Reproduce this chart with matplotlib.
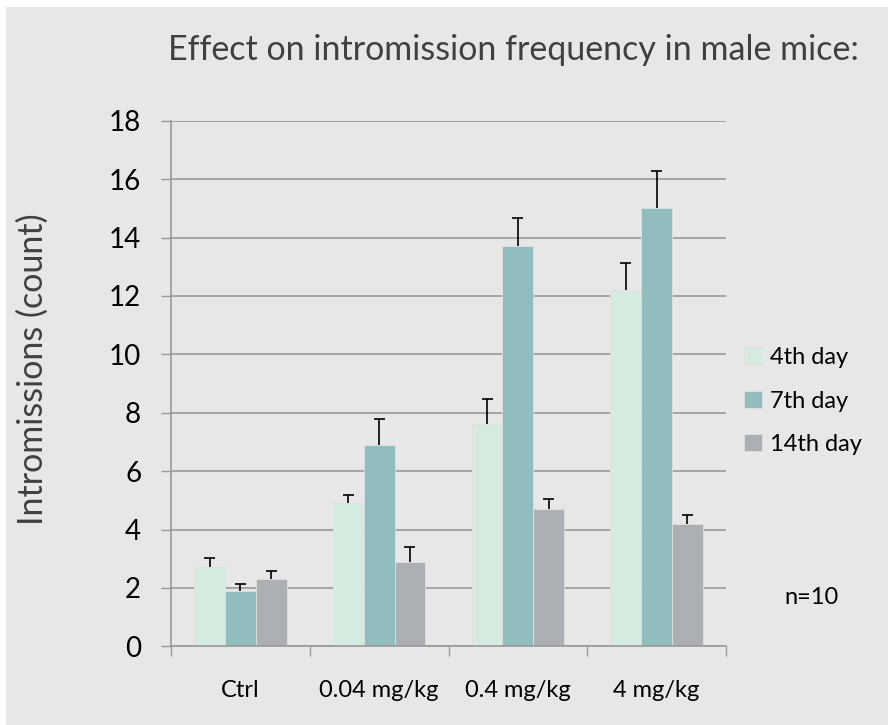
import matplotlib

matplotlib.use("Agg")
import matplotlib.pyplot as plt
import numpy as np
from matplotlib.patches import Rectangle

plt.rcParams["font.family"] = ["Lato", "DejaVu Sans"]

# data
groups = ["Ctrl", "0.04 mg/kg", "0.4 mg/kg", "4 mg/kg"]
series = ["4th day", "7th day", "14th day"]
day4 = [2.7, 4.9, 7.6, 12.2]
day7 = [1.9, 6.9, 13.7, 15.0]
day14 = [2.3, 2.9, 4.7, 4.2]
err4 = [0.33, 0.27, 0.86, 0.93]
err7 = [0.25, 0.88, 0.98, 1.28]
err14 = [0.27, 0.49, 0.33, 0.29]
yticks = list(range(0, 19, 2))

colors = ["#d5ebe0", "#92bdbe", "#acafb4"]
BG = "#e7e7e7"
GRID = "#999999"
TXT = "#404040"

fig = plt.figure(figsize=(8.88, 7.25), dpi=100, facecolor="white")
# grey panel (small white margin at top and left, like the screenshot)
fig.patches.append(
    Rectangle((6 / 888, 0), 1, 1 - 7 / 725, transform=fig.transFigure,
              facecolor=BG, edgecolor="none", zorder=-10)
)

ax = fig.add_axes([171 / 888, 1 - 646.3 / 725, 555 / 888, (646.3 - 120.7) / 725])
ax.set_facecolor(BG)

x = np.arange(len(groups))
w = 0.222
vals = [day4, day7, day14]
errs = [err4, err7, err14]
for i, (v, e, c, lab) in enumerate(zip(vals, errs, colors, series)):
    xs = x + (i - 1) * w
    ax.bar(xs, v, width=w, color=c, edgecolor="#e0e0e0", linewidth=0.6, label=lab, zorder=2)
    top = np.array(v) + np.array(e)
    ax.vlines(xs, v, top, color="black", lw=1.2, zorder=3)
    ax.hlines(top, xs - 0.04, xs + 0.04, color="black", lw=1.2, zorder=3)

ax.set_xlim(-0.5, len(groups) - 0.5)
ax.set_ylim(0, 18)
ax.set_yticks(yticks)
ax.set_yticklabels([str(t) for t in yticks], fontsize=20, color="black")
ax.set_xticks(x)
ax.set_xticklabels(groups, fontsize=17, color="black")
ax.tick_params(axis="x", which="major", length=0, pad=24)
ax.set_xticks(np.arange(-0.5, len(groups), 1.0), minor=True)
ax.tick_params(axis="x", which="minor", length=7, color=GRID, width=1.0)
ax.tick_params(axis="y", length=7.5, color=GRID, width=1.0, pad=14)
ax.yaxis.grid(True, color=GRID, lw=1.2, zorder=0)
ax.set_axisbelow(True)
for s in ("top", "right"):
    ax.spines[s].set_visible(False)
for s in ("left", "bottom"):
    ax.spines[s].set_color(GRID)
    ax.spines[s].set_linewidth(1.2)

fig.text(33 / 888, 1 - 369 / 725, "Intromissions (count)", rotation=90,
         fontsize=24.5, color=TXT, ha="center", va="center")

fig.text(513 / 888, 1 - 50 / 725, "Effect on intromission frequency in male mice:",
         fontsize=24.5, color=TXT, ha="center", va="center")
fig.text(811 / 888, 1 - 598 / 725, "n=10", fontsize=17, color="black", ha="center", va="center")

leg = ax.legend(loc="center left", bbox_to_anchor=(744 / 888, 1 - 401 / 725),
                bbox_transform=fig.transFigure, frameon=False, fontsize=17,
                handlelength=0.75, handleheight=0.75, handletextpad=0.35, labelspacing=0.95,
                borderpad=0, borderaxespad=0)

fig.savefig("out.png", dpi=100, facecolor="white")
